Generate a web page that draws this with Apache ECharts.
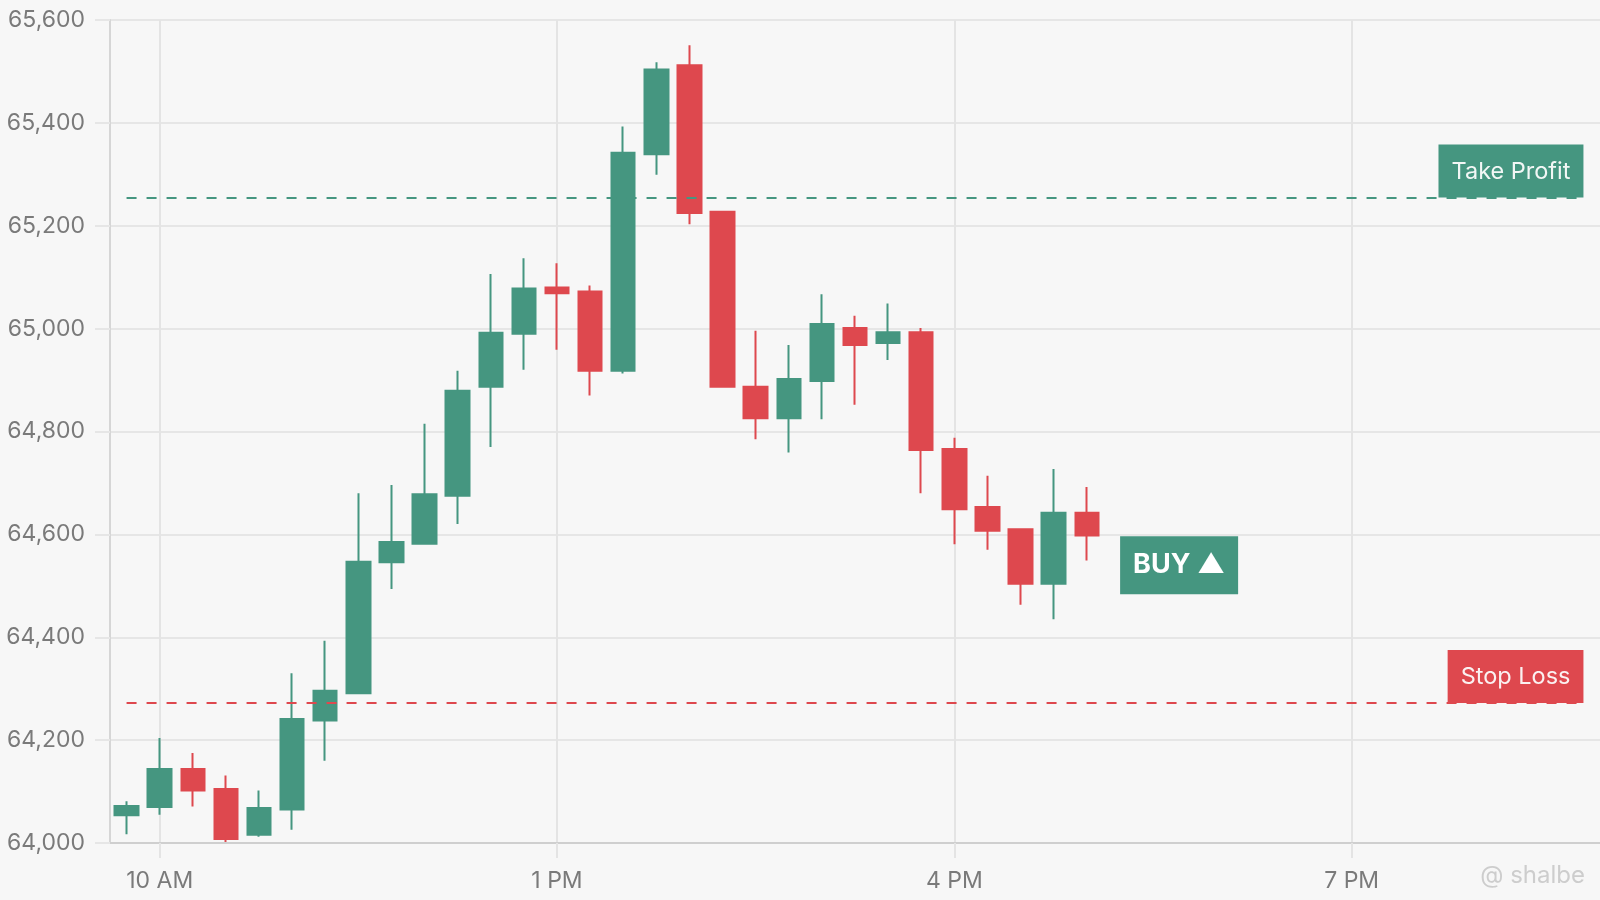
<!DOCTYPE html>
<html>
<head>
<meta charset="utf-8">
<script src="https://cdn.jsdelivr.net/npm/echarts@6/dist/echarts.min.js"></script>
<style>
html,body{margin:0;padding:0;background:#f7f7f7;}
#chart{width:1600px;height:900px;}
</style>
</head>
<body>
<div id="chart"></div>
<script>
// 15-minute slots shown on the x axis
const categories = ['09:45','10:00','10:15','10:30','10:45','11:00','11:15','11:30','11:45',
  '12:00','12:15','12:30','12:45','13:00','13:15','13:30','13:45','14:00','14:15','14:30','14:45',
  '15:00','15:15','15:30','15:45','16:00','16:15','16:30','16:45','17:00','17:15','17:30','17:45',
  '18:00','18:15','18:30','18:45','19:00','19:15','19:30','19:45','20:00','20:15','20:30','20:45'];

// candles: open, close, low, high (first 30 slots)
const opens  = [64054,64070,64144,64105,64016,64065,64238,64291,64546,64582,64675,64887,64990,65080,65072,
                64918,65339,65512,65227,64887,64826,64898,65001,64972,64993,64766,64653,64610,64504,64642];
const closes = [64072,64144,64102,64008,64068,64241,64296,64547,64585,64678,64879,64992,65078,65069,64918,
                65342,65504,65225,64887,64826,64902,65009,64968,64993,64764,64649,64607,64504,64642,64598];
const lows   = [64017,64055,64071,64002,64012,64026,64160,64289,64494,64580,64620,64770,64920,64959,64870,
                64913,65299,65203,64887,64785,64759,64824,64852,64939,64680,64581,64570,64463,64435,64549];
const highs  = [64081,64204,64175,64131,64102,64330,64393,64680,64696,64815,64918,65106,65137,65127,65084,
                65393,65518,65551,65229,64996,64968,65067,65025,65049,65001,64788,64714,64612,64727,64692];

const xTickTimes  = ['10:00','13:00','16:00','19:00'];
const xTickLabels = ['10 AM','1 PM','4 PM','7 PM'];

const takeProfit = 65255;
const stopLoss   = 64272;
const buySlot    = '17:45';
const buyPrice   = 64540;

const GREEN = '#459680';
const RED   = '#de484e';

const candleData = opens.map((o, i) => [o, closes[i], lows[i], highs[i]]);
const isTick = (idx, val) => xTickTimes.indexOf(val) >= 0;
const FONT = 'Inter';

const chart = echarts.init(document.getElementById('chart'));
chart.setOption({
  backgroundColor: '#f7f7f7',
  animation: false,
  grid: { left: 110, right: 0, top: 20, bottom: 57, containLabel: false },
  xAxis: {
    type: 'category',
    data: categories,
    boundaryGap: true,
    axisLine: { show: true, lineStyle: { color: '#cfcfcf', width: 2 } },
    axisTick: { show: true, interval: isTick, alignWithLabel: true, length: 15,
                lineStyle: { color: '#e4e4e4', width: 2 } },
    splitLine: { show: true, interval: isTick, alignWithLabel: true,
                 lineStyle: { color: '#e4e4e4', width: 2 } },
    axisLabel: {
      interval: isTick, margin: 27, color: '#7a7a7a', fontSize: 23, fontFamily: FONT,
      formatter: v => { const k = xTickTimes.indexOf(v); return k >= 0 ? xTickLabels[k] : ''; }
    }
  },
  yAxis: {
    type: 'value', min: 64000, max: 65600, interval: 200,
    axisLine: { show: true, lineStyle: { color: '#d6d6d6', width: 2 } },
    axisTick: { show: true, length: 15, lineStyle: { color: '#e6e6e6', width: 2 } },
    splitLine: { show: true, lineStyle: { color: '#e6e6e6', width: 2 } },
    axisLabel: { margin: 25, color: '#7a7a7a', fontSize: 23, fontFamily: FONT,
                 formatter: v => v.toLocaleString('en-US') }
  },
  series: [{
    type: 'candlestick',
    data: candleData,
    barWidth: 24,
    itemStyle: { color: GREEN, color0: RED, borderColor: GREEN, borderColor0: RED, borderWidth: 2 },
    markLine: {
      symbol: ['none', 'none'],
      silent: true,
      data: [
        [ { coord: [categories[0], takeProfit],
            lineStyle: { color: GREEN, type: [10, 10], width: 2 },
            label: { show: true, position: 'insideEndTop', formatter: 'Take Profit', distance: [0, 0],
                     backgroundColor: GREEN, color: '#f2f7f5', fontSize: 23.5, fontFamily: FONT,
                     padding: [15, 13, 14, 13] } },
          { coord: [categories[categories.length - 1], takeProfit] } ],
        [ { coord: [categories[0], stopLoss],
            lineStyle: { color: RED, type: [10, 10], width: 2 },
            label: { show: true, position: 'insideEndTop', formatter: 'Stop Loss', distance: [0, 0],
                     backgroundColor: RED, color: '#fbf1f1', fontSize: 23.5, fontFamily: FONT,
                     padding: [15, 13, 14, 13] } },
          { coord: [categories[categories.length - 1], stopLoss] } ]
      ]
    },
    markPoint: {
      silent: true,
      data: [{
        coord: [buySlot, buyPrice],
        symbol: 'rect', symbolSize: [118, 58], symbolOffset: [-7, 0],
        itemStyle: { color: GREEN },
        label: { show: true, position: 'inside', formatter: 'BUY ▲', color: '#ffffff',
                 fontSize: 27, fontWeight: 'bold', fontFamily: FONT }
      }]
    }
  }],
  graphic: [{
    type: 'text', right: 15, bottom: 12,
    style: { text: '@ shalbe', fill: '#cdcdcd', font: '24px Inter' }
  }]
});
</script>
</body>
</html>
